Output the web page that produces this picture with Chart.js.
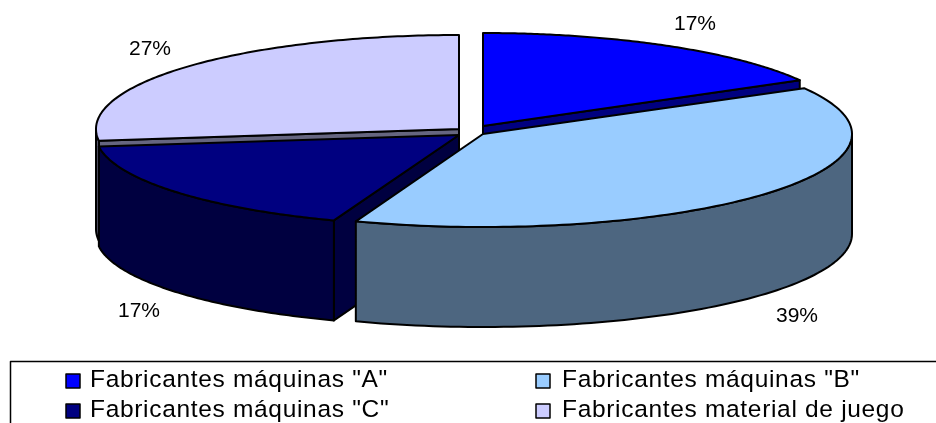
<!DOCTYPE html>
<html><head><meta charset="utf-8">
<style>html,body{margin:0;padding:0;background:#fff}canvas{display:block}</style>
<script src="https://cdn.jsdelivr.net/npm/chart.js@4"></script>
</head><body><canvas id="c" width="936" height="423" style="width:936px;height:423px"></canvas>
<script>
const categories = ['Fabricantes máquinas "A"','Fabricantes máquinas "B"','Fabricantes máquinas "C"','Fabricantes material de juego'];
const shares = [16.8, 38.8, 17.4, 27.0];
const topColors = ['#0000FF','#99CCFF','#000080','#CCCCFF'];
const wallColors = ['#000080','#4D6680','#000040','#666680'];

const ellipses = [
  {cx:483,cy:126,rx:364,ry:93},
  {cx:483,cy:134,rx:369,ry:93},
  {cx:459,cy:135,rx:363,ry:91},
  {cx:459,cy:129,rx:363,ry:94}
];
const DEPTH = 100, LINE = 2, FONT = '21px "Liberation Sans"', LEGEND_FONT = '24.5px "Liberation Sans"';
const paintOrder = [3,2,0,1];
const pctPos = [[695,24],[797,316],[139,311],[150,49]];
const legendPos = [[66,90,381],[536,562,381],[66,90,411],[536,562,411]];

function pct(i){const t=shares.reduce((a,b)=>a+b,0);return Math.round(shares[i]/t*100)+'%';}

const pie3d = {
  id:'pie3d',
  beforeDatasetDraw(chart){
    const ctx = chart.ctx, arcs = chart.getDatasetMeta(0).data;
    ctx.lineWidth = LINE; ctx.strokeStyle = '#000'; ctx.lineJoin='round';
    for(const i of paintOrder){
      const arc = arcs[i], e = ellipses[i];
      const p = (a,z=0)=>[e.cx+e.rx*Math.cos(a), e.cy+e.ry*Math.sin(a)+z];
      const s = arc.startAngle, t = arc.endAngle;
      const poly = (pts,fill)=>{ctx.beginPath();pts.forEach((q,k)=>k?ctx.lineTo(q[0],q[1]):ctx.moveTo(q[0],q[1]));ctx.closePath();ctx.fillStyle=fill;ctx.fill();ctx.stroke();};
      const radial = a=>poly([[e.cx,e.cy],p(a),p(a,DEPTH),[e.cx,e.cy+DEPTH]],wallColors[i]);
      if(Math.cos(s)<-1e-6) radial(s);
      if(Math.cos(t)>1e-6) radial(t);
      const a0=Math.max(s,0), a1=Math.min(t,Math.PI);
      if(a1>a0){
        const pts=[];const n=80;
        for(let k=0;k<=n;k++)pts.push(p(a0+(a1-a0)*k/n));
        for(let k=n;k>=0;k--)pts.push(p(a0+(a1-a0)*k/n,DEPTH));
        poly(pts,wallColors[i]);
      }
      const R = arc.outerRadius;
      ctx.save();
      ctx.translate(e.cx,e.cy);
      ctx.scale(e.rx/R,e.ry/R);
      ctx.translate(-arc.x,-arc.y);
      arc.draw(ctx);
      ctx.restore();
      ctx.beginPath();
      ctx.moveTo(e.cx,e.cy);
      for(let k=0;k<=120;k++){const q=p(s+(t-s)*k/120);ctx.lineTo(q[0],q[1]);}
      ctx.closePath();ctx.stroke();
    }
    return false;
  },
  afterDraw(chart){
    const ctx = chart.ctx;
    ctx.save();
    ctx.font = FONT; ctx.fillStyle='#000'; ctx.textAlign='center'; ctx.textBaseline='middle';
    shares.forEach((v,i)=>ctx.fillText(pct(i),pctPos[i][0],pctPos[i][1]));
    ctx.strokeStyle='#000';ctx.lineWidth=1.5;
    ctx.beginPath();ctx.moveTo(10.5,423);ctx.lineTo(10.5,361.5);ctx.lineTo(936,361.5);ctx.stroke();
    ctx.font = LEGEND_FONT; ctx.letterSpacing='0.68px';
    ctx.textAlign='left';ctx.textBaseline='alphabetic';
    chart.data.labels.forEach((l,i)=>{
      const [sx,tx,y]=legendPos[i];
      ctx.fillStyle=topColors[i];ctx.lineWidth=1.5;
      ctx.fillRect(sx,y-7,14,14);ctx.strokeRect(sx,y-7,14,14);
      ctx.fillStyle='#000';ctx.fillText(l,tx,y+6);
    });
    ctx.restore();
  }
};

new Chart(document.getElementById('c'),{
  type:'pie',
  data:{labels:categories,datasets:[{data:shares,backgroundColor:topColors,borderWidth:0}]},
  options:{responsive:false,animation:false,devicePixelRatio:1,
    plugins:{legend:{display:false},tooltip:{enabled:false}},layout:{padding:0}},
  plugins:[pie3d]
});
</script></body></html>
